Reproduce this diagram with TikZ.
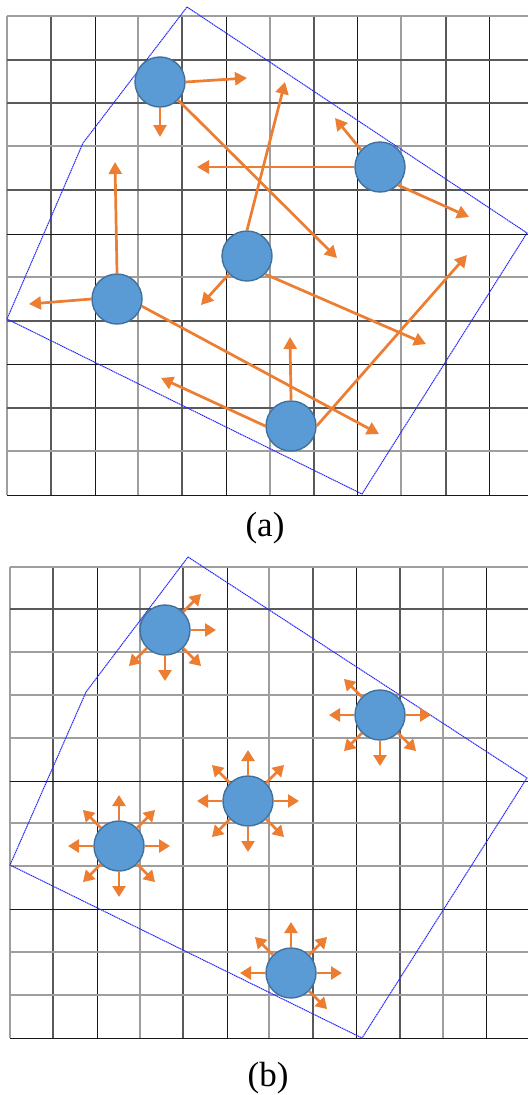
\documentclass[tikz,border=0pt]{standalone}
\usetikzlibrary{arrows.meta}
\usepackage{fontspec}
\setmainfont{Liberation Serif}
\definecolor{orng}{HTML}{ED7D31}
\definecolor{cfill}{HTML}{5B9BD5}
\definecolor{cline}{HTML}{41719C}
\begin{document}
\begin{tikzpicture}[x=1pt,y=1pt,
  gl/.style={draw=black!38, line width=1.6pt},
  gm/.style={draw=black!65, line width=1.1pt},
  gd/.style={draw=black!90, line width=0.9pt},
  hull/.style={draw=blue!85!white, line width=1pt, dash pattern=on 1.4pt off 0.6pt},
  agent/.style={circle, fill=cfill, draw=cline, line width=1.4pt, minimum size=50pt, inner sep=0pt},
  arr/.style={draw=orng, line width=2.7pt, -{Triangle[length=12pt,width=13pt]}},
  sarr/.style={draw=orng, line width=2.6pt, -{Triangle[length=11pt,width=13pt]}},
  lbl/.style={font=\fontsize{35}{40}\selectfont, anchor=base, inner sep=0pt}]
\useasboundingbox (0,0) rectangle (528,-1095);
\fill[white] (0,0) rectangle (528,-1095);

% ---------- panel (a) grid ----------
\foreach \v/\s in {7/gl,51/gm,95/gd,138/gl,182/gm,226/gd,270/gl,314/gm,357/gd,401/gl,446/gm,489/gd}
  \draw[\s] (\v,-16) -- (\v,-495);
\foreach \h/\s in {16/gl,60/gm,103/gm,146/gl,190/gm,234/gd,277/gl,321/gm,364/gd,408/gm,451/gl,495/gd}
  \draw[\s] (7,-\h) -- (528,-\h);

% ---------- panel (b) grid ----------
\foreach \v/\s in {10/gl,53/gm,97/gd,140/gl,183/gm,227/gd,269/gl,313/gm,356/gd,400/gm,443/gl,486/gd}
  \draw[\s] (\v,-567) -- (\v,-1038);
\foreach \h/\s in {567/gl,609/gm,652/gl,695/gl,738/gl,781/gd,823/gl,866/gl,909/gd,952/gl,995/gl,1038/gd}
  \draw[\s] (10,-\h) -- (528,-\h);

% ---------- hulls ----------
\draw[hull] (187,-7) -- (527,-233) -- (362,-494) -- (7,-319) -- (83,-143) -- cycle;
\draw[hull] (188,-557) -- (527,-778) -- (362,-1038) -- (10,-865) -- (86,-692) -- cycle;

% ---------- panel (a) agents ----------
\node[agent] (a1) at (160,-82) {};
\node[agent] (a2) at (380,-167) {};
\node[agent] (a3) at (247,-256) {};
\node[agent] (a4) at (117,-299) {};
\node[agent] (a5) at (291,-426) {};

\coordinate (t1r) at (247,-78);
\coordinate (t1d) at (160,-137);
\coordinate (t1l) at (337,-258);
\coordinate (t2u) at (335,-118);
\coordinate (t2w) at (197,-167);
\coordinate (t2d) at (469,-217);
\coordinate (t3u) at (285,-82);
\coordinate (t3d) at (201,-305);
\coordinate (t3r) at (426,-344);
\coordinate (t4u) at (115,-162);
\coordinate (t4w) at (29,-304);
\coordinate (t4r) at (379,-434);
\coordinate (t5u) at (290,-337);
\coordinate (t5w) at (161,-378);
\coordinate (t5r) at (467,-255);

\draw[arr] (a1.east) -- (t1r);
\draw[arr] (a1.south) -- (t1d);
\draw[arr] (a1.-45) -- (t1l);
\draw[arr] (a2.138) -- (t2u);
\draw[arr] (a2.west) -- (t2w);
\draw[arr] (a2.-45) -- (t2d);
\draw[arr] (a3.north) -- (t3u);
\draw[arr] (a3.-135) -- (t3d);
\draw[arr] (a3.-45) -- (t3r);
\draw[arr] (a4.north) -- (t4u);
\draw[arr] (a4.west) -- (t4w);
\draw[arr] (a4.-16) -- (t4r);
\draw[arr] (a5.north) -- (t5u);
\draw[arr] (a5.180) -- (t5w);
\draw[arr] (a5.east) -- (t5r);

% ---------- panel (b) agents ----------
\node[agent] (b1) at (165,-630) {};
\node[agent] (b2) at (380,-715) {};
\node[agent] (b3) at (248,-801) {};
\node[agent] (b4) at (119,-846) {};
\node[agent] (b5) at (291,-973) {};

\foreach \n/\al in {b1/{45,0,315,270,225},
                    b2/{135,180,0,225,270,315},
                    b3/{0,45,90,135,180,225,270,315},
                    b4/{0,45,90,135,180,225,270,315},
                    b5/{135,90,45,180,0,315}}{
  \foreach \a in \al {
    \path (\n) ++(\a:51) coordinate (\n t\a);
    \draw[sarr] (\n.\a) -- (\n t\a);
  }
}

% ---------- labels ----------
\node[lbl] (la) at (265,-536) {(a)};
\node[lbl] (lb) at (268,-1086) {(b)};
\end{tikzpicture}
\end{document}
